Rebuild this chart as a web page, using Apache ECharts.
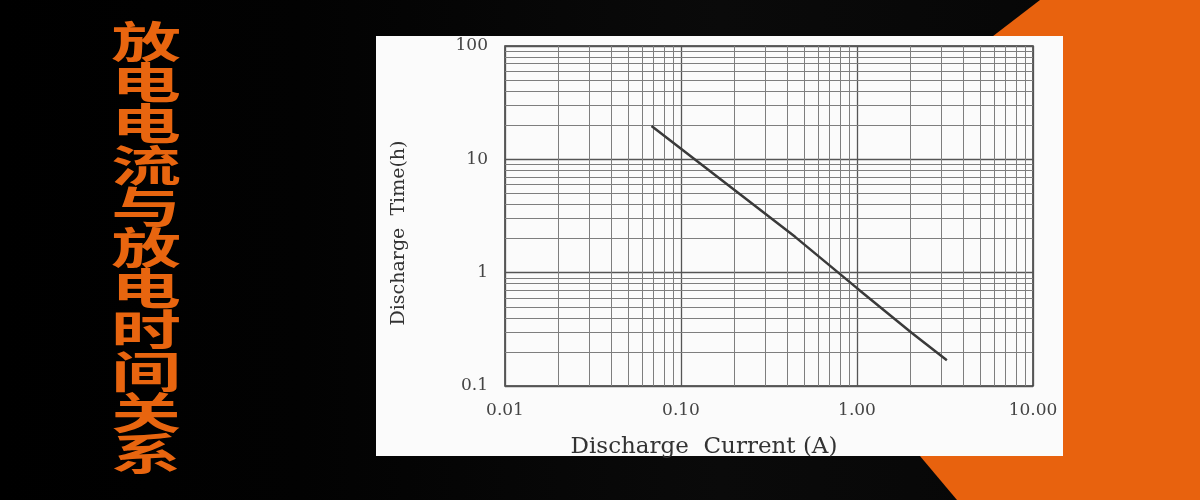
<!DOCTYPE html>
<html><head><meta charset="utf-8">
<script src="https://cdn.jsdelivr.net/npm/echarts@6/dist/echarts.min.js"></script>
<style>html,body{margin:0;padding:0;background:#000;}#c{width:1200px;height:500px;}</style>
</head><body><div id="c"></div>
<script>
// ---- data ----
const titleText = '放电电流与放电时间关系';
const xName = 'Discharge  Current (A)';
const yName = 'Discharge  Time(h)';
const xTickLabels = ['0.01', '0.10', '1.00', '10.00'];   // 10^-2 .. 10^1
const yTickLabels = ['0.1', '1', '10', '100'];           // 10^-1 .. 10^2
const currentA = [0.068, 0.445, 1.0, 2.05, 3.24];
const timeH = [19.7, 2.07, 0.73, 0.294, 0.169];
const minorMultipliers = [2, 3, 4, 5, 6, 7, 8, 9];
const xDecades = [0.01, 0.1, 1];
const yDecades = [0.1, 1, 10];

const minorX = [];
xDecades.forEach(d => minorMultipliers.forEach(m => minorX.push({ xAxis: +(d * m).toPrecision(3) })));
const minorY = [];
yDecades.forEach(d => minorMultipliers.forEach(m => minorY.push({ yAxis: +(d * m).toPrecision(3) })));

const chart = echarts.init(document.getElementById('c'));
const serif = 'DejaVu Serif';
chart.setOption({
  backgroundColor: {
    type: 'linear', x: 0, y: 0, x2: 1, y2: 0,
    colorStops: [{ offset: 0, color: '#000' }, { offset: 0.25, color: '#020202' }, { offset: 0.6, color: '#0a0a0a' }, { offset: 1, color: '#050505' }]
  },
  animation: false,
  graphic: [
    { type: 'polygon', z: -20, silent: true,
      shape: { points: [[1040, 0], [1200, 0], [1200, 500], [957, 500], [734, 235]] },
      style: { fill: '#E8620E' } },
    { type: 'rect', z: -10, silent: true,
      shape: { x: 376, y: 36, width: 687, height: 420 },
      style: { fill: '#fbfbfb' } },
    { type: 'text', z: 10, x: 146, y: 21, scaleX: 1.62, silent: true,
      style: { text: titleText.split('').join('\n'), fontSize: 43, lineHeight: 41.2,
        fontFamily: 'Noto Sans CJK SC', fontWeight: 'bold', fill: '#E8650F',
        textAlign: 'center', textVerticalAlign: 'top' } }
  ],
  grid: { left: 505, right: 167, top: 46, bottom: 114, show: true,
    borderColor: '#333', borderWidth: 1.5, backgroundColor: 'transparent' },
  xAxis: {
    type: 'log', logBase: 10, min: 0.01, max: 10,
    name: xName, nameLocation: 'middle', nameGap: 50,
    nameTextStyle: { fontFamily: serif, fontSize: 23, color: '#333', padding: [0, 130, 0, 0] },
    axisLine: { show: false }, axisTick: { show: false },
    axisLabel: { fontFamily: serif, fontSize: 17, color: '#444', margin: 16,
      formatter: v => xTickLabels[Math.round(Math.log10(v)) + 2] },
    splitLine: { show: true, lineStyle: { color: '#555', width: 1.3 } }
  },
  yAxis: {
    type: 'log', logBase: 10, min: 0.1, max: 100,
    name: yName, nameLocation: 'middle', nameGap: 96, nameRotate: 90,
    nameTextStyle: { fontFamily: serif, fontSize: 19, color: '#333', padding: [0, 34, 0, 0] },
    axisLine: { show: false }, axisTick: { show: false },
    axisLabel: { fontFamily: serif, fontSize: 17, color: '#444', margin: 17,
      formatter: v => yTickLabels[Math.round(Math.log10(v)) + 1] },
    splitLine: { show: true, lineStyle: { color: '#555', width: 1.3 } }
  },
  series: [
    { type: 'line', data: [], z: 1, silent: true,
      markLine: { silent: true, symbol: ['none', 'none'], label: { show: false },
        lineStyle: { color: '#7e7e7e', width: 1, type: 'solid' },
        emphasis: { disabled: true },
        data: minorX.concat(minorY) } },
    { type: 'line', z: 5, showSymbol: false, symbol: 'none',
      lineStyle: { color: '#3a3a3a', width: 2.5 },
      data: currentA.map((x, i) => [x, timeH[i]]) }
  ]
});
</script></body></html>
